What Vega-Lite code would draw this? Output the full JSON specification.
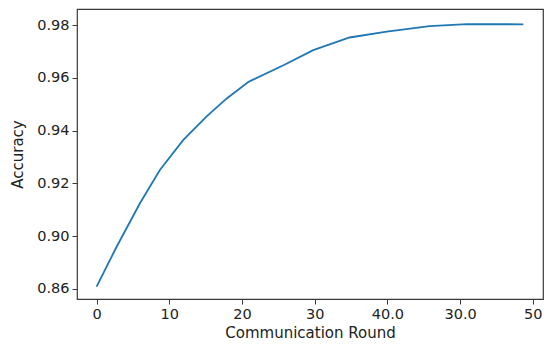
{
  "$schema": "https://vega.github.io/schema/vega-lite/v6.json",
  "autosize": "none",
  "padding": {"left": 77, "top": 9, "right": 7, "bottom": 49},
  "width": 466,
  "height": 290,
  "background": "white",
  "config": {
    "view": {"stroke": "#3a3a3a", "strokeWidth": 1.2},
    "axis": {
      "domain": false,
      "grid": false,
      "tickColor": "#3a3a3a",
      "tickSize": 5,
      "labelPadding": 3,
      "labelFont": "DejaVu Sans",
      "labelFontSize": 14.5,
      "labelColor": "#222222",
      "titleFont": "DejaVu Sans",
      "titleFontSize": 15,
      "titleFontWeight": "normal",
      "titleColor": "#222222"
    }
  },
  "data": {
    "values": [
      {"round": 0, "accuracy": 0.8809},
      {"round": 2.75, "accuracy": 0.896},
      {"round": 5.96, "accuracy": 0.9125},
      {"round": 8.7, "accuracy": 0.9251},
      {"round": 11.9, "accuracy": 0.9364},
      {"round": 15.1, "accuracy": 0.9453},
      {"round": 17.9, "accuracy": 0.9522},
      {"round": 20.9, "accuracy": 0.9585},
      {"round": 25.7, "accuracy": 0.9648},
      {"round": 29.8, "accuracy": 0.9705},
      {"round": 34.8, "accuracy": 0.9753},
      {"round": 39.9, "accuracy": 0.9775},
      {"round": 45.8, "accuracy": 0.9796},
      {"round": 50.9, "accuracy": 0.9804},
      {"round": 58.7, "accuracy": 0.9803}
    ]
  },
  "mark": {"type": "line", "color": "#1f77b4", "strokeWidth": 1.8},
  "encoding": {
    "x": {
      "field": "round",
      "type": "quantitative",
      "scale": {"domain": [-2.7, 61.4], "nice": false, "zero": false},
      "axis": {
        "title": "Communication Round",
        "values": [0, 10, 20, 30, 40, 50, 60],
        "labelExpr": "datum.value == 40 ? '40.0' : datum.value == 50 ? '30.0' : datum.value == 60 ? '50' : format(datum.value, 'd')",
        "titlePadding": 5
      }
    },
    "y": {
      "field": "accuracy",
      "type": "quantitative",
      "scale": {"domain": [0.8762, 0.9861], "nice": false, "zero": false},
      "axis": {
        "title": "Accuracy",
        "values": [0.88, 0.9, 0.92, 0.94, 0.96, 0.98],
        "labelExpr": "datum.value < 0.885 ? '0.86' : format(datum.value, '.2f')",
        "titlePadding": 11
      }
    }
  }
}
